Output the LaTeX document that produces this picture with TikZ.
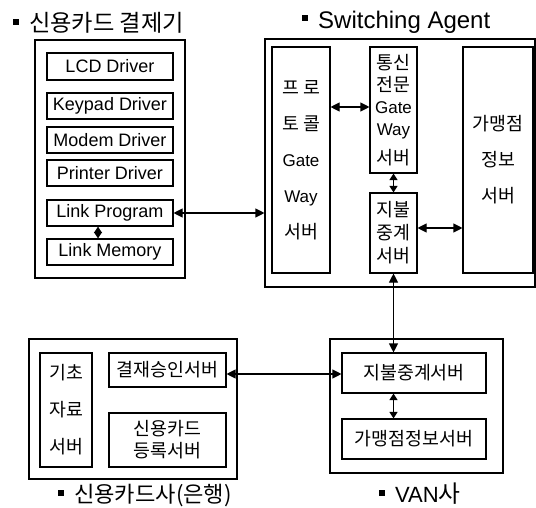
\documentclass[tikz,border=0pt]{standalone}
\usepackage{fontspec}
\setmainfont{Liberation Sans}
\newfontfamily\kr[Scale=1.08]{Noto Sans CJK KR}
\usetikzlibrary{arrows.meta}
\begin{document}
\begin{tikzpicture}[x=1pt,y=-1pt,
  bx/.style={draw,line width=1.1pt,inner sep=0pt,align=center,font=\fontsize{17}{20}\selectfont},
  drv/.style={bx,minimum width=126pt,minimum height=26pt,font=\fontsize{18}{20}\selectfont},
  ttl/.style={inner sep=0pt,anchor=west},
  arr/.style={line width=1.1pt,{Triangle[length=9pt,width=9pt]}-{Triangle[length=9pt,width=9pt]}},
  sarr/.style={line width=1.1pt,{Triangle[length=6.5pt,width=8pt]}-{Triangle[length=6.5pt,width=8pt]}}]
\useasboundingbox (0,0) rectangle (536,508);
\fill[white] (0,0) rectangle (536,508);
\newcommand\blt{\rule[7pt]{6pt}{6pt}\hspace{10pt}}
% titles
\node[ttl,font=\fontsize{21.5}{24}\selectfont] (t1) at (13,23) {\blt{\kr 신용카드 결제기}};
\node[ttl,font=\fontsize{24}{26}\selectfont] (t2) at (302,22) {\blt Switching Agent};
\node[ttl,font=\fontsize{20.5}{24}\selectfont] (t3) at (58,496) {\blt{\kr 신용카드사(은행)}};
\node[ttl,font=\fontsize{22}{24}\selectfont] (t4) at (379,494) {\blt VAN{\kr 사}};
% credit card terminal
\node[bx,minimum width=150pt,minimum height=238pt] (dev) at (110,159) {};
\node[drv,minimum height=27pt] (lcd) at (110,66.5) {LCD Driver};
\node[drv] (key) at (110,106) {Keypad Driver};
\node[drv] (modem) at (110,140) {Modem Driver};
\node[drv] (prn) at (110,173) {Printer Driver};
\node[drv] (lprog) at (110,213) {Link Program};
\node[drv] (lmem) at (110,252) {Link Memory};
% switching agent
\node[bx,minimum width=270pt,minimum height=248pt] (sa) at (400,163) {};
\node[bx,minimum width=58pt,minimum height=226pt,font=\fontsize{17}{36}\selectfont] (proto) at (301,160)
  {{\kr 프 로}\\{\kr 토 콜}\\Gate\\Way\\{\kr 서버}};
\node[bx,minimum width=47pt,minimum height=126pt,font=\fontsize{17}{22}\selectfont] (tong) at (393.5,110)
  {{\kr 통신}\\{\kr 전문}\\Gate\\Way\\[7pt]{\kr 서버}};
\node[bx,minimum width=47pt,minimum height=80pt,font=\fontsize{17}{23}\selectfont] (jibul) at (393.5,233)
  {{\kr 지불}\\{\kr 중계}\\{\kr 서버}};
\node[bx,minimum width=70pt,minimum height=226pt,font=\fontsize{17}{36}\selectfont] (gam) at (498,160)
  {{\kr 가맹점}\\{\kr 정보}\\{\kr 서버}};
% VAN
\node[bx,minimum width=173pt,minimum height=134pt] (van) at (416.5,406) {};
\node[bx,minimum width=144pt,minimum height=40pt] (vjibul) at (414,373) {\kr 지불중계서버};
\node[bx,minimum width=144pt,minimum height=40pt] (vgam) at (414,439) {\kr 가맹점정보서버};
% bank
\node[bx,minimum width=208pt,minimum height=140pt] (bank) at (133,409) {};
\node[bx,minimum width=52pt,minimum height=114pt,font=\fontsize{17}{37}\selectfont] (gicho) at (66,410)
  {{\kr 기초}\\{\kr 자료}\\{\kr 서버}};
\node[bx,minimum width=117pt,minimum height=34pt] (gyeol) at (167.5,370) {\kr 결재승인서버};
\node[bx,minimum width=117pt,minimum height=54pt,font=\fontsize{17}{22}\selectfont] (reg) at (167.5,440)
  {{\kr 신용카드}\\{\kr 등록서버}};
% connectors
\draw[arr] (lprog.east) -- (lprog.east -| sa.west);
\draw[sarr] ([xshift=-12pt]lprog.south) -- ([xshift=-12pt]lmem.north);
\draw[arr] ([yshift=3pt]tong.west -| proto.east) -- ([yshift=3pt]tong.west);
\draw[sarr] (tong.south) -- (jibul.north);
\draw[arr] ([yshift=5pt]jibul.east) -- ([yshift=5pt]jibul.east -| gam.west);
\draw[arr] (jibul.south) -- (jibul.south |- vjibul.north);
\draw[sarr] (vjibul.south -| jibul.south) -- (vgam.north -| jibul.south);
\draw[arr] ([yshift=-4pt]gyeol.east) -- ([yshift=-4pt]gyeol.east -| vjibul.west);
\end{tikzpicture}
\end{document}
